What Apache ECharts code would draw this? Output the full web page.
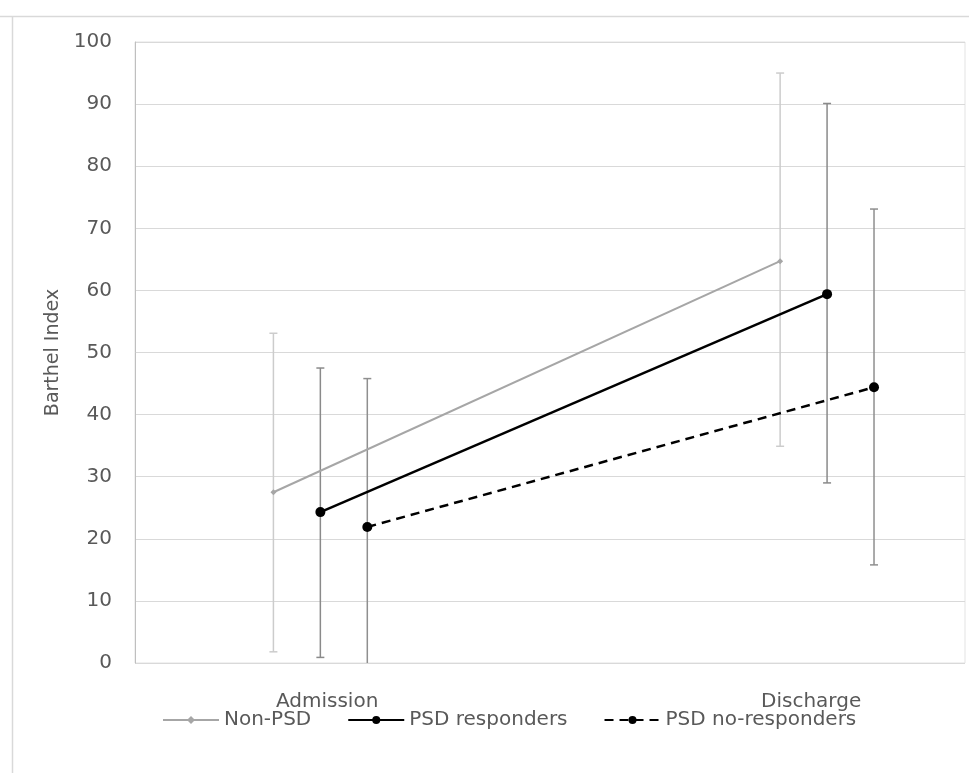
<!DOCTYPE html>
<html><head><meta charset="utf-8">
<script src="https://cdn.jsdelivr.net/npm/echarts@6/dist/echarts.min.js"></script>
<style>html,body{margin:0;padding:0;background:#fff}#c{width:969px;height:773px}</style>
</head><body><div id="c"></div>
<script>
// ---- data ----
const categories = ['Admission', 'Discharge'];
const seriesNames = ['Non-PSD', 'PSD responders', 'PSD no-responders'];
const nonPsdMean = [27.5, 64.7];
const nonPsdLow = [1.8, 34.9];
const nonPsdHigh = [53.1, 95.0];
const respMean = [24.3, 59.4];
const respLow = [0.9, 29.0];
const respHigh = [47.5, 90.1];
const noRespMean = [21.9, 44.4];
const noRespLow = [0, 15.8];
const noRespHigh = [45.8, 73.1];
const yTicks = [0, 10, 20, 30, 40, 50, 60, 70, 80, 90, 100];

// ---- layout (not data) ----
const groupCenter = [-0.014, 1.033];
const seriesOffset = [-0.097, 0, 0.097];
const font = '"DejaVu Sans", sans-serif';

const all = [
  {name: seriesNames[0], mean: nonPsdMean, low: nonPsdLow, high: nonPsdHigh,
   color: '#a6a6a6', width: 2, type: 'solid', symbol: 'diamond', size: 6, errColor: '#cccccc'},
  {name: seriesNames[1], mean: respMean, low: respLow, high: respHigh,
   color: '#000000', width: 2.5, type: 'solid', symbol: 'circle', size: 10, errColor: '#8a8a8a'},
  {name: seriesNames[2], mean: noRespMean, low: noRespLow, high: noRespHigh,
   color: '#000000', width: 2.5, type: [9, 6], symbol: 'circle', size: 10, errColor: '#8f8f8f'}
];

const series = [];
all.forEach((s, si) => {
  const pts = categories.map((c, ci) => [groupCenter[ci] + seriesOffset[si], s.mean[ci], s.low[ci], s.high[ci], ci]);
  const noCap = s.low.map(v => v <= 0);
  series.push({
    type: 'custom', name: s.name + '_err', silent: true, z: 1,
    data: pts,
    encode: {x: 0, y: [2, 3]},
    renderItem: function (params, api) {
      const x = api.value(0);
      const lo = api.coord([x, api.value(2)]);
      const hi = api.coord([x, api.value(3)]);
      const ci = api.value(4);
      const cw = 4;
      const st = {stroke: s.errColor, lineWidth: 1.5};
      const ch = [
        {type: 'line', shape: {x1: lo[0], y1: lo[1], x2: hi[0], y2: hi[1]}, style: st},
        {type: 'line', shape: {x1: hi[0] - cw, y1: hi[1], x2: hi[0] + cw, y2: hi[1]}, style: st}
      ];
      if (!noCap[ci]) ch.push({type: 'line', shape: {x1: lo[0] - cw, y1: lo[1], x2: lo[0] + cw, y2: lo[1]}, style: st});
      return {type: 'group', children: ch};
    }
  });
  series.push({
    type: 'line', name: s.name, z: 3,
    data: pts.map(p => [p[0], p[1]]),
    symbol: s.symbol, symbolSize: s.size,
    lineStyle: {color: s.color, width: s.width, type: s.type},
    itemStyle: {color: s.color},
    emphasis: {disabled: true}
  });
});

const chart = echarts.init(document.getElementById('c'), null, {renderer: 'canvas'});
chart.setOption({
  animation: false,
  backgroundColor: '#ffffff',
  graphic: [
    {type: 'line', shape: {x1: 0, y1: 16.5, x2: 969, y2: 16.5}, style: {stroke: '#d9d9d9', lineWidth: 1.5}, silent: true},
    {type: 'line', shape: {x1: 12.5, y1: 16, x2: 12.5, y2: 773}, style: {stroke: '#d9d9d9', lineWidth: 1.5}, silent: true}
  ],
  grid: {left: 135, right: 4, top: 42, bottom: 110, show: true, borderColor: '#e3e3e3', borderWidth: 1},
  legend: {
    data: seriesNames.map(n => ({name: n})),
    top: 705, left: 157,
    itemWidth: 56, itemHeight: 10, itemGap: 36,
    textStyle: {fontFamily: font, fontSize: 20, color: '#595959'}
  },
  xAxis: {
    type: 'value', min: -0.397, max: 1.318,
    splitLine: {show: false},
    axisLine: {show: false}, axisTick: {show: false},
    axisLabel: {
      customValues: [0, 1],
      formatter: v => categories[Math.round(v)],
      margin: 29, fontFamily: font, fontSize: 20, color: '#595959'
    }
  },
  yAxis: {
    type: 'value', min: yTicks[0], max: yTicks[yTicks.length - 1], interval: 10,
    name: 'Barthel Index', nameLocation: 'middle', nameGap: 72,
    nameTextStyle: {fontFamily: font, fontSize: 19, color: '#595959'},
    axisLine: {show: true, onZero: false, lineStyle: {color: '#bfbfbf'}},
    axisTick: {show: false},
    splitLine: {lineStyle: {color: '#d9d9d9', width: 1}},
    axisLabel: {margin: 23, fontFamily: font, fontSize: 20, color: '#595959'}
  },
  series: series
});
</script>
</body></html>
